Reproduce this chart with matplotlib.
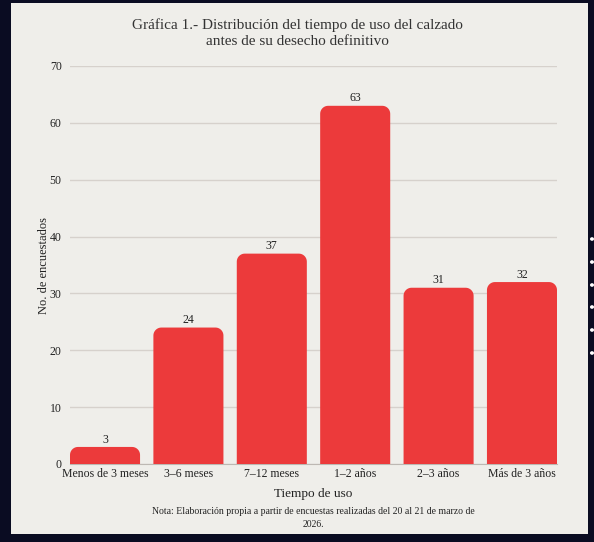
import numpy as np
import matplotlib.pyplot as plt
from matplotlib.patches import Rectangle, Circle, Polygon

categorias = ["Menos de 3 meses", "3–6 meses", "7–12 meses", "1–2 años", "2–3 años", "Más de 3 años"]
encuestados = [3, 24, 37, 63, 31, 32]
yticks = [0, 10, 20, 30, 40, 50, 60, 70]

plt.rcParams['font.family'] = ['Liberation Serif', 'DejaVu Serif']

W, H = 594, 542
fig = plt.figure(figsize=(W / 100, H / 100), dpi=100)
fig.patch.set_facecolor('#0a0c22')

# panel claro
fig.patches.append(Rectangle((11 / W, 1 - 534 / H), 577 / W, 531 / H, transform=fig.transFigure,
                             facecolor='#efeeea', edgecolor='none', zorder=0))
# puntos decorativos a la derecha
for py in [239, 262, 285, 307, 330, 353]:
    fig.patches.append(Circle((592 / W, 1 - py / H), 2 / W, transform=fig.transFigure,
                              facecolor='white', edgecolor='none', zorder=1))

ax = fig.add_axes([70 / W, 1 - 464 / H, 487 / W, 398 / H])
ax.set_zorder(2)
ax.set_facecolor('none')

bars = ax.bar(range(len(categorias)), encuestados, width=0.84, color='#ec3a3b')
ax.set_xlim(-0.42, len(categorias) - 0.58)
ax.set_ylim(0, 70)


def top_rounded(x, w, h, rx, ry):
    ry = min(ry, h)
    t = np.linspace(0, np.pi / 2, 12)
    left = [(x + rx - rx * np.cos(a), h - ry + ry * np.sin(a)) for a in t]
    right = [(x + w - rx + rx * np.sin(a), h - ry + ry * np.cos(a)) for a in t]
    return [(x, 0)] + left + right + [(x + w, 0)]


# esquinas superiores redondeadas (~8 px)
rx = 8 / 83.4
ry = 8 / 5.686
for b in bars:
    x, w, h = b.get_x(), b.get_width(), b.get_height()
    b.set_visible(False)
    ax.add_patch(Polygon(top_rounded(x, w, h, rx, ry), closed=True,
                         facecolor='#ec3a3b', edgecolor='none', zorder=3))
    ax.text(x + w / 2, h + 0.25, str(int(h)), ha='center', va='bottom', fontsize=8.5, color='#222222', zorder=4)

ax.set_yticks(yticks)
ax.yaxis.grid(True, color='#d6d1cc', linewidth=1)
ax.set_axisbelow(True)
for s in ['top', 'right', 'left']:
    ax.spines[s].set_visible(False)
ax.spines['bottom'].set_color('#bdb8b3')
ax.tick_params(axis='both', length=0, labelsize=8.5, labelcolor='#222222')
ax.tick_params(axis='y', pad=6)
ax.tick_params(axis='x', pad=3)
ax.set_xticks(range(len(categorias)))
ax.set_xticklabels(categorias)

ax.set_ylabel("No. de encuestados", fontsize=9, color='#222222', labelpad=0)
ax.set_xlabel("Tiempo de uso", fontsize=9.5, color='#222222', labelpad=6)

fig.text(0.5, 1 - 33 / H, "Gráfica 1.- Distribución del tiempo de uso del calzado\nantes de su desecho definitivo",
         ha='center', va='center', fontsize=11, color='#333333', linespacing=1.25)
fig.text(313 / W, 1 - 518 / H, "Nota: Elaboración propia a partir de encuestas realizadas del 20 al 21 de marzo de\n2026.",
         ha='center', va='center', fontsize=7, color='#222222', linespacing=1.5)

fig.savefig('out.png', dpi=100, facecolor=fig.get_facecolor())
